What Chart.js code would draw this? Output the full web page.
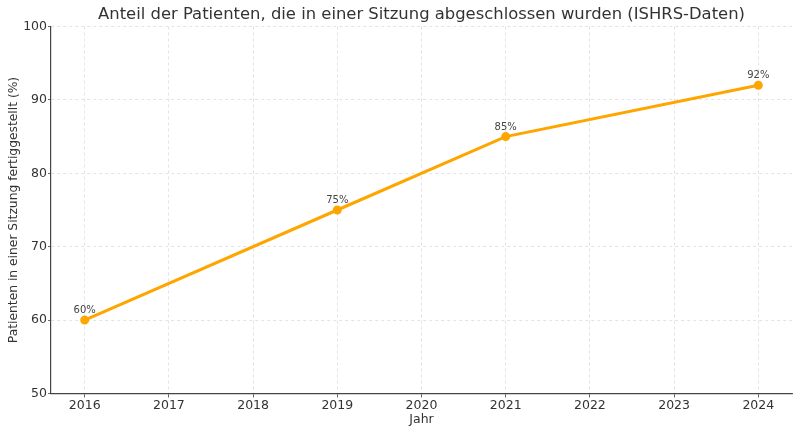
<!DOCTYPE html>
<html><head><meta charset="utf-8">
<script src="https://cdn.jsdelivr.net/npm/chart.js@4"></script>
<style>html,body{margin:0;padding:0;background:#fff}#w{width:800px;height:433px}</style>
</head><body><div id="w"><canvas id="c"></canvas></div>
<script>
const years = [2016, 2019, 2021, 2024];
const values = [60, 75, 85, 92];
const xTicks = [2016, 2017, 2018, 2019, 2020, 2021, 2022, 2023, 2024];
const yTicks = [50, 60, 70, 80, 90, 100];
const titleText = 'Anteil der Patienten, die in einer Sitzung abgeschlossen wurden (ISHRS-Daten)';
const xTitle = 'Jahr';
const yTitle = 'Patienten in einer Sitzung fertiggestellt (%)';
const FONT = "'DejaVu Sans', sans-serif";

const extras = {
  id: 'extras',
  afterDatasetsDraw(chart) {
    const ctx = chart.ctx;
    const meta = chart.getDatasetMeta(0);
    ctx.save();
    ctx.font = '10px ' + FONT;
    ctx.fillStyle = '#444';
    ctx.textAlign = 'center';
    ctx.textBaseline = 'alphabetic';
    meta.data.forEach((p, i) => ctx.fillText(values[i] + '%', p.x, p.y - 7));
    ctx.font = '16.4px ' + FONT;
    ctx.fillStyle = '#333';
    ctx.textBaseline = 'middle';
    const ca = chart.chartArea;
    ctx.fillText(titleText, (ca.left + ca.right) / 2, 15);
    ctx.restore();
  }
};

new Chart(document.getElementById('c'), {
  type: 'line',
  data: { datasets: [{
    data: years.map((y, i) => ({ x: y, y: values[i] })),
    borderColor: '#FFA500', backgroundColor: '#FFA500',
    borderWidth: 3, pointRadius: 3, pointHoverRadius: 3, tension: 0
  }]},
  options: {
    responsive: true, maintainAspectRatio: false, animation: false,
    layout: { padding: { top: 26.5, right: 8, left: 0, bottom: 0 } },
    plugins: { legend: { display: false }, tooltip: { enabled: false } },
    scales: {
      x: {
        type: 'linear', min: 2015.6, max: 2024.4,
        afterBuildTicks: s => { s.ticks = xTicks.map(v => ({ value: v })); },
        afterFit: s => { s.height = 39.5; },
        ticks: { callback: v => String(v), color: '#333', font: { family: FONT, size: 12.5 }, padding: 1, maxRotation: 0, autoSkip: false },
        grid: { color: '#dcdcdc', lineWidth: 0.8, tickLength: 4, tickColor: '#444' },
        border: { display: true, color: '#444', width: 1.2, dash: [3, 3] },
        title: { display: true, text: xTitle, color: '#333', font: { family: FONT, size: 12.5 }, padding: { top: 0, bottom: 6 } }
      },
      y: {
        min: 50, max: 100,
        afterBuildTicks: s => { s.ticks = yTicks.map(v => ({ value: v })); },
        afterFit: s => { s.width = 51; },
        ticks: { color: '#333', font: { family: FONT, size: 12.5 }, padding: 1 },
        grid: { color: '#dcdcdc', lineWidth: 0.8, tickLength: 3, tickColor: '#444' },
        border: { display: true, color: '#444', width: 1.2, dash: [3, 3] },
        title: { display: true, text: yTitle, color: '#333', font: { family: FONT, size: 12.3 }, padding: { top: 6, bottom: 0 } }
      }
    }
  },
  plugins: [extras]
});
</script></body></html>
